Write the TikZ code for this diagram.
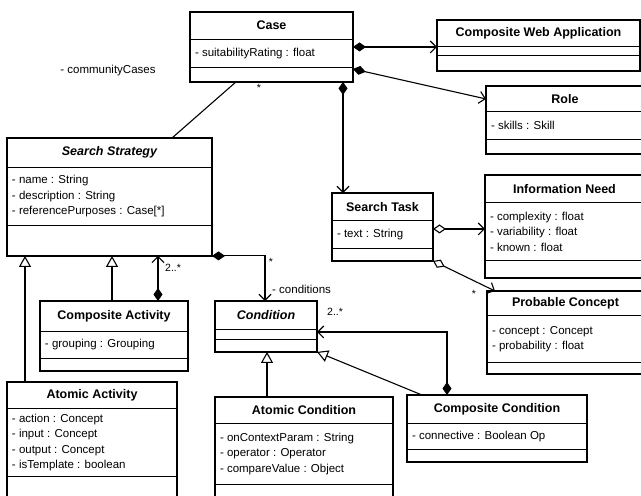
\documentclass[tikz,border=0pt]{standalone}
\usepackage{fontspec}
\setmainfont{Liberation Sans}
\usetikzlibrary{shapes.multipart,arrows.meta,positioning}

% one compartment of a class box: width, height, text
\newcommand{\ctitle}[3]{\parbox[c][#2pt][c]{#1pt}{\centering\fontsize{12.5}{14}\selectfont\bfseries #3\par}}
\newcommand{\cattrs}[3]{\parbox[c][#2pt][c]{#1pt}{\leftskip=5pt #3\par}}

\begin{document}
\begin{tikzpicture}[%
x=1pt, y=1pt,
umlclass/.style={rectangle split, rectangle split parts=3, draw, line width=1.3pt,
  inner sep=0pt, outer sep=0pt, anchor=north west, font=\fontsize{11.5}{15.5}\selectfont},
link/.style={line width=1.1pt},
compose/.style={link, {Diamond[length=13pt,width=9pt]}-{Straight Barb[length=6pt,width=12pt]}},
aggregate/.style={link, {Diamond[open,length=13pt,width=9pt]}-{Straight Barb[length=6pt,width=12pt]}},
inherit/.style={link, -{Triangle[open,length=11pt,width=12pt]}},
lbl/.style={font=\fontsize{11.5}{13}\selectfont, inner sep=1pt},
mult/.style={font=\fontsize{10.5}{12}\selectfont, inner sep=1pt}
]
\fill[white] (0,0) rectangle (641,-496);
\useasboundingbox (0,0) rectangle (641,-496);
\clip (0,0) rectangle (641,-496);

\node[umlclass] (case) at (190,-12) {\ctitle{163}{26}{Case}
  \nodepart{second}\cattrs{163}{27}{- suitabilityRating : float}
  \nodepart{third}\cattrs{163}{13}{}};
\node[umlclass] (cwa) at (437,-20) {\ctitle{203}{25}{Composite Web Application}
  \nodepart{second}\cattrs{203}{8}{}
  \nodepart{third}\cattrs{203}{14}{}};
\node[umlclass] (role) at (486,-86) {\ctitle{158}{24}{Role}
  \nodepart{second}\cattrs{158}{27}{- skills : Skill}
  \nodepart{third}\cattrs{158}{13}{}};
\node[umlclass] (strategy) at (7,-138) {\ctitle{205}{28}{\itshape Search Strategy}
  \nodepart{second}\cattrs{205}{57}{- name : String\\- description : String\\- referencePurposes : Case[*]}
  \nodepart{third}\cattrs{205}{29}{}};
\node[umlclass] (task) at (332,-193) {\ctitle{101}{26}{Search Task}
  \nodepart{second}\cattrs{101}{27}{- text : String}
  \nodepart{third}\cattrs{101}{11}{}};
\node[umlclass] (need) at (485,-175) {\ctitle{159}{26}{Information Need}
  \nodepart{second}\cattrs{159}{57}{- complexity : float\\- variability : float\\- known : float}
  \nodepart{third}\cattrs{159}{16}{}};
\node[umlclass] (concept) at (487,-291) {\ctitle{157}{23}{Probable Concept}
  \nodepart{second}\cattrs{157}{46}{- concept : Concept\\- probability : float}
  \nodepart{third}\cattrs{157}{10}{}};
\node[umlclass] (condition) at (215,-301) {\ctitle{102}{27}{\itshape Condition}
  \nodepart{second}\cattrs{102}{9}{}
  \nodepart{third}\cattrs{102}{11}{}};
\node[umlclass] (cactivity) at (40,-301) {\ctitle{148}{29}{Composite Activity}
  \nodepart{second}\cattrs{148}{26}{- grouping : Grouping}
  \nodepart{third}\cattrs{148}{11}{}};
\node[umlclass] (aactivity) at (7,-382) {\ctitle{170}{25}{Atomic Activity}
  \nodepart{second}\cattrs{170}{67}{- action : Concept\\- input : Concept\\- output : Concept\\- isTemplate : boolean}
  \nodepart{third}\cattrs{170}{20}{}};
\node[umlclass] (acondition) at (215,-397) {\ctitle{178}{25}{Atomic Condition}
  \nodepart{second}\cattrs{178}{60}{- onContextParam : String\\- operator : Operator\\- compareValue : Object}
  \nodepart{third}\cattrs{178}{11}{}};
\node[umlclass] (ccondition) at (407,-395) {\ctitle{180}{27}{Composite Condition}
  \nodepart{second}\cattrs{180}{25}{- connective : Boolean Op}
  \nodepart{third}\cattrs{180}{11}{}};

% case and its parts
\draw[link] ([xshift=-35.5pt]case.south) -- ([xshift=62.5pt]strategy.north);
\node[lbl] (ccname) at (108,-71) {- communityCases};
\node[mult] (ccmult) at (259,-88) {*};
\draw[compose] (case.east) -- (case.east -| cwa.west);
\draw[compose] ([yshift=-22pt]case.east) -- ([yshift=21pt]role.west);
\draw[compose] ([xshift=71.5pt]case.south) -- ([xshift=71.5pt]case.south |- task.north);

% search task
\draw[aggregate] ([yshift=-2pt]task.east) -- ([yshift=-2pt]task.east -| need.west);
\draw[aggregate] (task.south east) -- ([xshift=8pt]concept.north west);
\node[mult] (pcmult) at (474,-294) {*};

% activities
\draw[inherit] ([xshift=18pt]aactivity.north west) -- ([xshift=18pt]aactivity.north west |- strategy.south);
\draw[inherit] ([xshift=72pt]cactivity.north west) -- ([xshift=72pt]cactivity.north west |- strategy.south);
\draw[compose] ([xshift=118pt]cactivity.north west) -- ([xshift=118pt]cactivity.north west |- strategy.south);
\node[mult, anchor=west] (camult) at (164,-268) {2..*};

% conditions
\draw[compose] (strategy.south east) -| ([xshift=50pt]condition.north west);
\node[mult] (condmult) at (271,-262) {*};
\node[lbl, anchor=west] (condname) at (271,-289) {- conditions};
\draw[compose] ([xshift=40pt]ccondition.north west) |- ([yshift=-5.5pt]condition.east);
\node[mult, anchor=west] (ccmult2) at (326,-312) {2..*};
\draw[inherit] ([xshift=15pt]ccondition.north west) -- (condition.south east);
\draw[inherit] ([xshift=52pt]acondition.north west) -- ([xshift=52pt]acondition.north west |- condition.south);
\end{tikzpicture}
\end{document}
